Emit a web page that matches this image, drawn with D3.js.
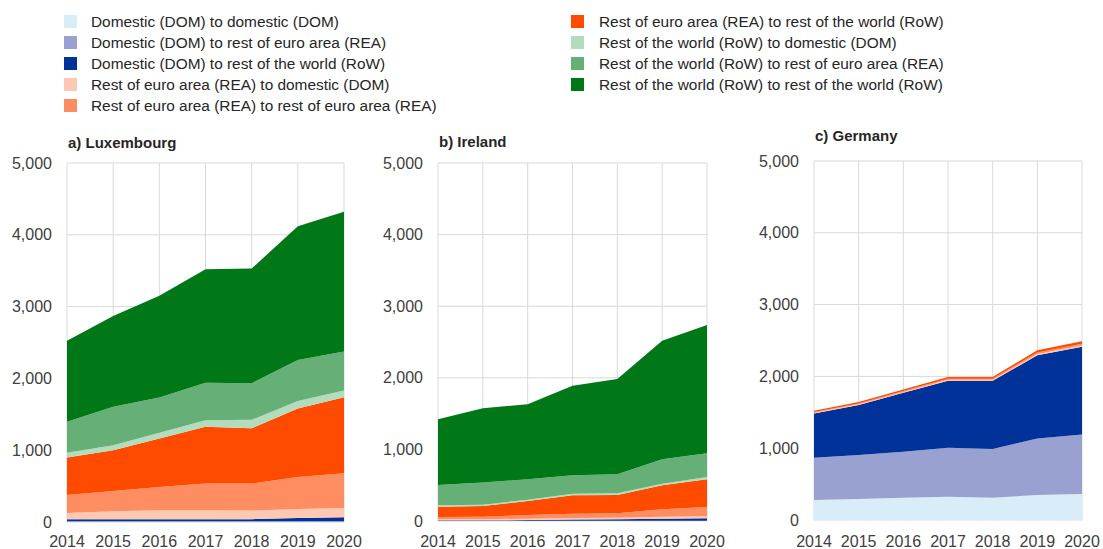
<!DOCTYPE html>
<html>
<head>
<meta charset="utf-8">
<script src="https://cdn.jsdelivr.net/npm/d3@7"></script>
<style>
  body { margin: 0; background: #fff; }
  svg { font-family: "Liberation Sans", Arial, sans-serif; }
  .tick-label { font-size: 16px; fill: #404040; }
  .panel-title { font-size: 15px; font-weight: bold; fill: #262626; }
  .legend-text { font-size: 15.4px; fill: #262626; }
</style>
</head>
<body>
<script>
//years on the x axis
var years = [2014, 2015, 2016, 2017, 2018, 2019, 2020];

//series in stacking order, bottom to top
var seriesNames = [
    "Domestic (DOM) to domestic (DOM)",
    "Domestic (DOM) to rest of euro area (REA)",
    "Domestic (DOM) to rest of the world (RoW)",
    "Rest of euro area (REA) to domestic (DOM)",
    "Rest of euro area (REA) to rest of euro area (REA)",
    "Rest of euro area (REA) to rest of the world (RoW)",
    "Rest of the world (RoW) to domestic (DOM)",
    "Rest of the world (RoW) to rest of euro area (REA)",
    "Rest of the world (RoW) to rest of the world (RoW)"
];
var seriesColors = ["#d9edf8", "#98a1cf", "#003299", "#ffc8b2", "#ff8d62", "#ff4b00", "#b2dcbc", "#66b077", "#007818"];

//one row per series, same order as seriesNames
var luxembourg = [
    [5, 5, 5, 5, 5, 5, 5],
    [5, 5, 5, 5, 5, 5, 5],
    [30, 30, 30, 30, 30, 45, 55],
    [85, 110, 125, 125, 120, 125, 130],
    [250, 283, 323, 370, 375, 448, 484],
    [525, 567, 675, 790, 771, 953, 1060],
    [65, 70, 79, 93, 117, 103, 93],
    [430, 535, 493, 522, 511, 572, 544],
    [1131, 1265, 1415, 1580, 1596, 1864, 1944]
];
var ireland = [
    [3, 3, 3, 3, 3, 3, 3],
    [2, 2, 2, 2, 2, 2, 2],
    [5, 5, 8, 15, 18, 25, 32],
    [15, 15, 20, 22, 22, 28, 30],
    [31, 35, 51, 61, 62, 105, 129],
    [144, 150, 196, 256, 256, 336, 387],
    [19, 18, 18, 23, 24, 23, 32],
    [284, 308, 285, 257, 266, 340, 331],
    [919, 1040, 1049, 1251, 1329, 1655, 1791]
];
var germany = [
    [278, 292, 311, 325, 311, 348, 362],
    [589, 612, 640, 681, 677, 788, 830],
    [617, 696, 821, 932, 950, 1160, 1220],
    [10, 11, 12, 14, 14, 17, 20],
    [10, 12, 13, 16, 16, 20, 24],
    [16, 20, 22, 25, 25, 30, 34],
    [0, 0, 0, 0, 0, 0, 0],
    [0, 0, 0, 0, 0, 0, 0],
    [0, 0, 0, 0, 0, 0, 0]
];
var yTicks = [0, 1000, 2000, 3000, 4000, 5000];

var width = 1103,
    height = 549;

var svg = d3.select("body")
    .append("svg")
    .attr("width", width)
    .attr("height", height);

//panel frames
var panels = [
    { title: "a) Luxembourg", data: luxembourg, left: 67, right: 344, top: 163, bottom: 522, titleY: 148 },
    { title: "b) Ireland", data: ireland, left: 438, right: 707, top: 163, bottom: 521, titleY: 147 },
    { title: "c) Germany", data: germany, left: 814, right: 1082, top: 161, bottom: 520, titleY: 141 }
];

panels.forEach(drawPanel);
drawLegend();

function drawPanel(p){

    var x = d3.scaleLinear()
        .domain([years[0], years[years.length - 1]])
        .range([p.left, p.right]);

    var y = d3.scaleLinear()
        .domain([0, 5000])
        .range([p.bottom, p.top]);

    var g = svg.append("g").attr("class", "panel");

    //grid lines
    g.selectAll(".hgrid")
        .data(yTicks)
        .enter()
        .append("line")
        .attr("x1", p.left)
        .attr("x2", p.right)
        .attr("y1", function(d){ return y(d); })
        .attr("y2", function(d){ return y(d); })
        .attr("stroke", "#d9d9d9")
        .attr("stroke-width", 1);

    g.selectAll(".vgrid")
        .data(years)
        .enter()
        .append("line")
        .attr("x1", function(d){ return x(d); })
        .attr("x2", function(d){ return x(d); })
        .attr("y1", p.top)
        .attr("y2", p.bottom)
        .attr("stroke", "#d9d9d9")
        .attr("stroke-width", 1);

    //build rows for the stack
    var rows = years.map(function(yr, i){
        var row = { year: yr };
        seriesNames.forEach(function(name, s){ row[name] = p.data[s][i]; });
        return row;
    });

    var stacked = d3.stack().keys(seriesNames)(rows);

    var area = d3.area()
        .x(function(d){ return x(d.data.year); })
        .y0(function(d){ return y(d[0]); })
        .y1(function(d){ return y(d[1]); });

    g.selectAll(".layer")
        .data(stacked)
        .enter()
        .append("path")
        .attr("class", "layer")
        .attr("d", area)
        .attr("fill", function(d, i){ return seriesColors[i]; });

    //y tick labels
    g.selectAll(".ylab")
        .data(yTicks)
        .enter()
        .append("text")
        .attr("class", "tick-label")
        .attr("x", p.left - 15)
        .attr("y", function(d){ return y(d); })
        .attr("dy", "0.35em")
        .attr("text-anchor", "end")
        .text(function(d){ return d3.format(",")(d); });

    //x tick labels
    g.selectAll(".xlab")
        .data(years)
        .enter()
        .append("text")
        .attr("class", "tick-label")
        .attr("x", function(d){ return x(d); })
        .attr("y", 547)
        .attr("text-anchor", "middle")
        .text(function(d){ return d; });

    //panel title
    g.append("text")
        .attr("class", "panel-title")
        .attr("x", p.left + 1)
        .attr("y", p.titleY)
        .text(p.title);
};

function drawLegend(){
    var rowY = [22, 43, 64, 85, 106];

    var items = svg.selectAll(".legend-item")
        .data(seriesNames)
        .enter()
        .append("g")
        .attr("class", "legend-item")
        .attr("transform", function(d, i){
            var col = i < 5 ? 0 : 1;
            var row = i < 5 ? i : i - 5;
            return "translate(" + (col ? 571 : 64) + "," + rowY[row] + ")";
        });

    items.append("rect")
        .attr("x", 0)
        .attr("y", -7)
        .attr("width", 13)
        .attr("height", 13)
        .attr("fill", function(d, i){ return seriesColors[i]; });

    items.append("text")
        .attr("class", "legend-text")
        .attr("x", function(d, i){ return i < 5 ? 27 : 28; })
        .attr("y", 0)
        .attr("dy", "0.35em")
        .text(function(d){ return d; });
};
</script>
</body>
</html>
